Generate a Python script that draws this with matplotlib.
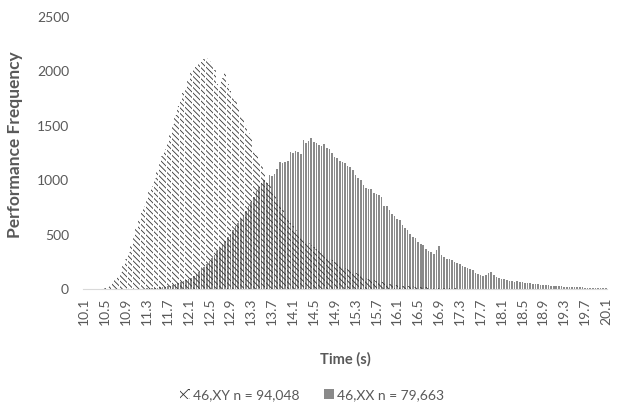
import numpy as np
import matplotlib.pyplot as plt
from matplotlib.patches import Patch

# finish times, 0.05 s bins from 10.1 to 20.1
times = [f"{10.1 + 0.05 * i:.2f}" for i in range(201)]

xy_counts = [
    0, 1, 0, 2, 1, 3, 4, 8, 12, 20,
    35, 55, 80, 115, 160, 215, 280, 340, 410, 490,
    560, 630, 700, 760, 830, 900, 950, 1020, 1090, 1160,
    1220, 1290, 1350, 1430, 1520, 1600, 1680, 1740, 1800, 1850,
    1920, 1990, 2020, 2040, 2070, 2090, 2110, 2120, 2100, 2070,
    2010, 1880, 1860, 1940, 1985, 1880, 1820, 1770, 1730, 1660,
    1600, 1560, 1510, 1430, 1400, 1280, 1230, 1180, 1130, 1070,
    990, 960, 900, 860, 820, 780, 730, 690, 650, 610,
    580, 545, 515, 485, 460, 440, 420, 405, 390, 370,
    350, 330, 315, 295, 280, 265, 250, 235, 220, 205,
    190, 180, 170, 155, 145, 135, 125, 115, 105, 95,
    88, 80, 74, 68, 62, 57, 52, 48, 44, 40,
    37, 34, 32, 30, 28, 26, 24, 22, 20, 18,
    16, 15, 13, 12, 11, 10, 9, 8, 7, 6,
    6, 5, 5, 4, 4, 3, 3, 3, 2, 2,
    2, 2, 1, 1, 1, 1, 1, 0, 1, 0,
    0, 1, 0, 0, 0, 0, 0, 0, 0, 0,
    0, 0, 0, 0, 0, 0, 0, 0, 0, 0,
    0, 0, 0, 0, 0, 0, 0, 0, 0, 0,
    0, 0, 0, 0, 0, 0, 0, 0, 0, 0,
    0,
]

xx_counts = [
    0, 0, 0, 0, 0, 0, 0, 0, 0, 0,
    0, 0, 0, 0, 0, 1, 0, 1, 1, 2,
    2, 3, 3, 4, 5, 6, 8, 10, 12, 15,
    18, 22, 27, 32, 38, 45, 52, 60, 70, 80,
    92, 105, 120, 140, 160, 180, 205, 230, 255, 285,
    315, 345, 380, 410, 445, 480, 510, 545, 575, 610,
    640, 680, 720, 760, 800, 850, 900, 940, 975, 1000,
    970, 1050, 1040, 1060, 1100, 1170, 1160, 1170, 1175, 1260,
    1250, 1265, 1260, 1240, 1370, 1340, 1360, 1385, 1350, 1340,
    1320, 1310, 1330, 1300, 1290, 1250, 1210, 1200, 1180, 1165,
    1160, 1130, 1120, 1090, 1050, 1020, 1000, 960, 930, 920,
    915, 880, 870, 860, 850, 760, 760, 730, 690, 670,
    640, 630, 590, 560, 540, 510, 480, 470, 430, 410,
    400, 370, 350, 340, 320, 360, 395, 310, 290, 280,
    275, 265, 250, 240, 230, 210, 205, 195, 180, 170,
    150, 140, 125, 120, 130, 145, 155, 130, 110, 100,
    90, 92, 85, 75, 70, 68, 72, 65, 60, 58,
    55, 52, 50, 45, 42, 40, 38, 35, 33, 30,
    28, 27, 25, 24, 22, 20, 19, 18, 17, 16,
    15, 14, 13, 12, 11, 11, 10, 10, 9, 8,
    8,
]

xy_label = '46,XY n = 94,048'
xx_label = '46,XX n = 79,663'


def main():
    plt.rcParams['font.family'] = ['Lato', 'DejaVu Sans']
    plt.rcParams['hatch.linewidth'] = 0.6
    text_color = '#595959'
    xx_color, hatch_color = '#8a8a8a', '#333333'

    fig = plt.figure(figsize=(6.24, 4.19), dpi=100)
    ax = fig.add_axes([0.133, 0.3103, 0.840, 0.6491])

    pos = np.arange(len(times))
    ax.bar(pos, xx_counts, width=0.62, color=xx_color, linewidth=0)
    ax.bar(pos, xy_counts, width=0.85, facecolor='none',
           edgecolor=hatch_color, hatch='\\' * 6, linewidth=0)

    ax.set_xlim(-0.5, len(times) - 0.5)
    ax.set_ylim(0, 2500)
    ax.set_yticks(range(0, 2501, 500))
    ax.set_xticks(pos[::8])
    ax.set_xticklabels([f"{float(t):.1f}" for t in times[::8]], rotation=90)

    for side in ['top', 'right', 'left']:
        ax.spines[side].set_visible(False)
    ax.spines['bottom'].set_color('#d9d9d9')
    ax.tick_params(axis='both', length=0, labelsize=10, colors=text_color)
    ax.tick_params(axis='x', pad=6)
    ax.tick_params(axis='y', pad=10)

    ax.set_xlabel('Time (s)', fontsize=10.5, fontweight='bold', color=text_color)
    ax.set_ylabel('Performance Frequency', fontsize=12.5,
                  fontweight='bold', color=text_color)
    ax.xaxis.set_label_coords(0.5, -0.232)
    ax.yaxis.set_label_coords(-0.114, 0.53)

    legend_elements = [
        Patch(facecolor='white', edgecolor=hatch_color, hatch='x' * 3,
              linewidth=0, label=xy_label),
        Patch(facecolor=xx_color, linewidth=0, label=xx_label),
    ]
    fig.legend(handles=legend_elements,
               loc='center',
               bbox_to_anchor=(0.5, 0.057),
               ncol=2,
               frameon=False,
               fontsize=10,
               labelcolor=text_color,
               handlelength=0.7,
               handleheight=0.7,
               handletextpad=0.2,
               columnspacing=1.8)

    fig.savefig('out.png', dpi=100)


if __name__ == '__main__':
    main()
